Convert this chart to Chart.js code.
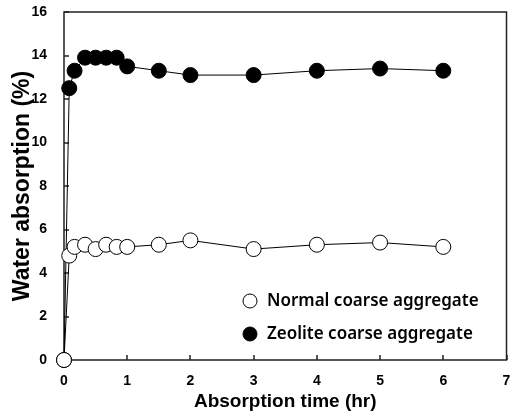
<!DOCTYPE html>
<html>
<head>
<meta charset="utf-8">
<script src="https://cdn.jsdelivr.net/npm/chart.js@4"></script>
<style>
  html, body { margin: 0; padding: 0; background: #fff; }
  #wrap { width: 515px; height: 413px; }
</style>
</head>
<body>
<div id="wrap"><canvas id="myChart"></canvas></div>
<script>
"use strict";
// absorption time (hr)
const times = [0, 0.083, 0.167, 0.333, 0.5, 0.667, 0.833, 1, 1.5, 2, 3, 4, 5, 6];
const normalValues = [0, 4.8, 5.2, 5.3, 5.1, 5.3, 5.2, 5.2, 5.3, 5.5, 5.1, 5.3, 5.4, 5.2];
const zeoliteValues = [0, 12.5, 13.3, 13.9, 13.9, 13.9, 13.9, 13.5, 13.3, 13.1, 13.1, 13.3, 13.4, 13.3];
const seriesNames = ['Normal coarse aggregate', 'Zeolite coarse aggregate'];
const xTicks = [0, 1, 2, 3, 4, 5, 6, 7];
const yTicks = [0, 2, 4, 6, 8, 10, 12, 14, 16];

const tickFont = { family: "Arial, 'Liberation Sans'", size: 14, weight: 'bold' };
const xTitleFont = { family: "Arial, 'Liberation Sans'", size: 19, weight: 'bold' };
const yTitleFont = { family: "Arial, 'Liberation Sans'", size: 23, weight: 'bold' };

function toPoints(xs, ys) {
    return xs.map((x, i) => ({ x: x, y: ys[i] }));
}

// frame round the plot and short inward ticks
const framePlugin = {
    id: 'frame',
    beforeDatasetsDraw(chart) {
        const ctx = chart.ctx;
        const a = chart.chartArea;
        const xs = chart.scales.x;
        const ys = chart.scales.y;
        ctx.save();
        ctx.strokeStyle = '#222';
        ctx.lineWidth = 1.5;
        ctx.beginPath();
        xTicks.forEach((t) => {
            const px = Math.round(xs.getPixelForValue(t));
            ctx.moveTo(px, a.bottom);
            ctx.lineTo(px, a.bottom - 5);
        });
        yTicks.forEach((t) => {
            const py = Math.round(ys.getPixelForValue(t));
            ctx.moveTo(a.left, py);
            ctx.lineTo(a.left + 5, py);
        });
        ctx.stroke();
        ctx.strokeRect(a.left, a.top, a.right - a.left, a.bottom - a.top);
        ctx.restore();
    }
};

// legend drawn inside the plot, lower right
const legendPlugin = {
    id: 'innerLegend',
    afterDraw(chart) {
        const ctx = chart.ctx;
        const a = chart.chartArea;
        ctx.save();
        ctx.font = "600 17px 'Noto Sans', sans-serif";
        ctx.textBaseline = 'middle';
        chart.data.datasets.forEach((ds, i) => {
            const cx = a.left + 186;
            const cy = a.bottom - 59 + i * 33;
            ctx.beginPath();
            ctx.arc(cx, cy, 7, 0, Math.PI * 2);
            ctx.fillStyle = ds.pointBackgroundColor;
            ctx.fill();
            ctx.strokeStyle = '#000';
            ctx.lineWidth = 1;
            ctx.stroke();
            ctx.fillStyle = '#000';
            ctx.fillText(ds.label, cx + 17, cy);
        });
        ctx.restore();
    }
};

const ctx = document.getElementById('myChart').getContext('2d');
const myChart = new Chart(ctx, {
    type: 'line',
    data: {
        datasets: [{
            label: seriesNames[0],
            data: toPoints(times, normalValues),
            borderColor: '#000',
            borderWidth: 1,
            pointBackgroundColor: '#fff',
            pointBorderColor: '#000',
            pointBorderWidth: 1,
            pointRadius: 7.5,
            tension: 0,
            clip: false
        }, {
            label: seriesNames[1],
            data: toPoints(times, zeoliteValues),
            borderColor: '#000',
            borderWidth: 1,
            pointBackgroundColor: '#000',
            pointBorderColor: '#000',
            pointBorderWidth: 1,
            pointRadius: 7.5,
            tension: 0,
            clip: false
        }]
    },
    options: {
        responsive: true,
        maintainAspectRatio: false,
        animation: false,
        layout: { padding: { top: 12, right: 7, left: 0, bottom: 0 } },
        plugins: {
            legend: { display: false },
            tooltip: { enabled: false }
        },
        scales: {
            x: {
                type: 'linear',
                min: 0,
                max: 7,
                afterBuildTicks: (s) => { s.ticks = xTicks.map((v) => ({ value: v })); },
                afterFit: (s) => { s.height = 53; s.paddingLeft = 0; s.paddingRight = 0; },
                grid: { display: false },
                border: { display: false },
                ticks: { color: '#000', font: tickFont, padding: 5, maxRotation: 0 },
                title: { display: true, text: 'Absorption time (hr)', color: '#000', font: xTitleFont, padding: { top: 2, bottom: 0 } }
            },
            y: {
                type: 'linear',
                min: 0,
                max: 16,
                afterBuildTicks: (s) => { s.ticks = yTicks.map((v) => ({ value: v })); },
                afterFit: (s) => { s.width = 64; s.paddingTop = 0; s.paddingBottom = 0; },
                grid: { display: false },
                border: { display: false },
                ticks: { color: '#000', font: tickFont, padding: 9 },
                title: { display: true, text: 'Water absorption (%)', color: '#000', font: yTitleFont, padding: { top: 9, bottom: 4 } }
            }
        }
    },
    plugins: [framePlugin, legendPlugin]
});
</script>
</body>
</html>
